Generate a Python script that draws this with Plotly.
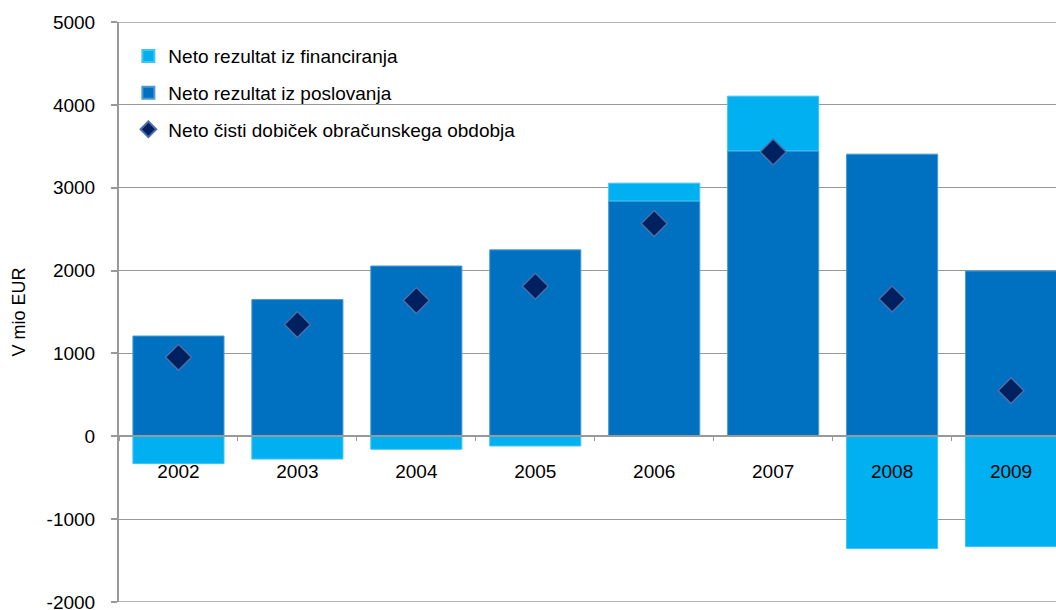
import plotly.graph_objects as go

years = ["2002", "2003", "2004", "2005", "2006", "2007", "2008", "2009"]
poslovanje = [1210, 1650, 2055, 2250, 2840, 3445, 3405, 1995]
financiranje = [-330, -275, -157, -117, 215, 660, -1355, -1332]
cisti_dobicek = [953, 1348, 1638, 1810, 2567, 3431, 1657, 551]
y_tickvals = [-2000, -1000, 0, 1000, 2000, 3000, 4000, 5000]
y_ticktext = ["-2000", "-1000", "0", "1000", "2000", "3000", "4000", "5000"]

FONT = "Liberation Sans, Arial, sans-serif"
GRAY = "#999999"

fig = go.Figure()
fig.add_trace(go.Bar(
    x=years, y=poslovanje, name="Neto rezultat iz poslovanja",
    marker=dict(color="#0070C0", line=dict(color="#4a9ad6", width=1)),
    legendgroup="b", legendrank=2,
))
fig.add_trace(go.Bar(
    x=years, y=financiranje, name="Neto rezultat iz financiranja",
    marker=dict(color="#00B0F0", line=dict(color="#40c4f4", width=1)),
    legendgroup="a", legendrank=1,
))
fig.add_trace(go.Scatter(
    x=years, y=cisti_dobicek, name="Neto čisti dobiček obračunskega obdobja",
    mode="markers",
    marker=dict(symbol="diamond", size=20, color="#002060",
                line=dict(color="#4a6fa8", width=1.5)),
    legendgroup="c", legendrank=3,
))

# gridlines at the two ends of the value range (Plotly omits them at the edges)
for yv in (y_tickvals[0], y_tickvals[-1]):
    fig.add_shape(type="line", xref="paper", yref="y", x0=0, x1=1, y0=yv, y1=yv,
                  line=dict(color=GRAY, width=1.3), layer="below")

fig.update_layout(
    width=1056, height=610,
    margin=dict(l=119, r=0, t=22, b=8, autoexpand=False),
    paper_bgcolor="white", plot_bgcolor="white",
    barmode="relative", bargap=0.234,
    font=dict(family=FONT, size=19, color="#000000"),
    showlegend=True,
    legend=dict(
        x=0.01, y=0.974, xanchor="left", yanchor="top",
        bgcolor="rgba(0,0,0,0)", traceorder="grouped", tracegroupgap=9,
        font=dict(family=FONT, size=19, color="#000000"),
        itemwidth=30, itemsizing="constant",
    ),
    xaxis=dict(
        type="category", range=[-0.5, 7.378],
        anchor="free", position=2 / 7, automargin=False,
        showline=True, linecolor=GRAY, linewidth=2,
        ticks="outside", tickson="boundaries", ticklen=4, tickcolor=GRAY, tickwidth=1,
        showgrid=False, zeroline=False,
        ticklabelstandoff=18,
        tickfont=dict(family=FONT, size=19, color="#000000"),
        layer="above traces",
    ),
    yaxis=dict(
        range=[-2000, 5000], tickmode="array", tickvals=y_tickvals, ticktext=y_ticktext,
        automargin=False, ticklabeloverflow="allow",
        showline=True, linecolor=GRAY, linewidth=2,
        ticks="outside", ticklen=6, tickcolor=GRAY, tickwidth=1.5,
        showgrid=True, gridcolor=GRAY, gridwidth=1.3,
        zeroline=False,
        ticklabelstandoff=12,
        tickfont=dict(family=FONT, size=19, color="#000000"),
        title=dict(text="V mio EUR", standoff=16,
                   font=dict(family=FONT, size=18, color="#000000")),
    ),
)

fig.write_html("out.html", config={"displayModeBar": False},
               post_script="document.body.style.margin='0';")
